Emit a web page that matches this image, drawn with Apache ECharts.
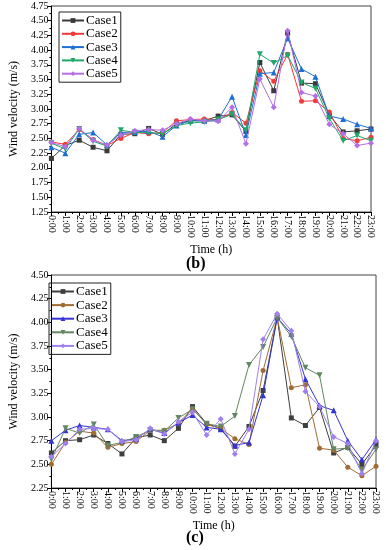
<!DOCTYPE html>
<html><head><meta charset="utf-8">
<script src="https://cdn.jsdelivr.net/npm/echarts@6/dist/echarts.min.js"></script>
<style>html,body{margin:0;padding:0;background:#fff}#c{width:386px;height:550px}</style>
</head><body><div id="c"></div>
<script>
const hours = ['0:00','1:00','2:00','3:00','4:00','5:00','6:00','7:00','8:00','9:00','10:00','11:00','12:00','13:00','14:00','15:00','16:00','17:00','18:00','19:00','20:00','21:00','22:00','23:00'];
const caseNames = ['Case1','Case2','Case3','Case4','Case5'];

// Panel (b)
const b_case1 = [2.16,2.38,2.47,2.35,2.29,2.57,2.58,2.67,2.57,2.75,2.80,2.80,2.88,2.90,2.62,3.79,3.31,4.29,3.44,3.43,2.90,2.61,2.63,2.66];
const b_case2 = [2.44,2.40,2.65,2.48,2.38,2.50,2.60,2.58,2.60,2.80,2.82,2.83,2.82,2.94,2.76,3.65,3.47,3.93,3.13,3.14,2.95,2.50,2.46,2.52];
const b_case3 = [2.35,2.25,2.57,2.60,2.39,2.60,2.61,2.62,2.53,2.72,2.80,2.80,2.82,3.21,2.56,3.60,3.62,4.20,3.68,3.55,2.88,2.83,2.74,2.67];
const b_case4 = [2.42,2.32,2.66,2.45,2.37,2.64,2.60,2.60,2.58,2.72,2.76,2.78,2.82,2.91,2.64,3.93,3.78,3.91,3.45,3.35,2.84,2.46,2.55,2.46];
const b_case5 = [2.43,2.36,2.67,2.47,2.39,2.56,2.63,2.65,2.64,2.75,2.83,2.80,2.79,3.03,2.41,3.51,3.03,4.33,3.28,3.22,2.74,2.58,2.38,2.42];

// Panel (c)
const c_case1 = [2.62,2.75,2.76,2.81,2.72,2.61,2.78,2.81,2.75,2.88,3.11,2.93,2.88,2.69,2.90,3.28,4.05,2.99,2.91,3.10,2.62,2.68,2.50,2.70];
const c_case2 = [2.50,2.73,2.85,2.83,2.68,2.72,2.74,2.86,2.86,2.93,3.09,2.92,2.88,2.77,2.71,3.49,4.05,3.31,3.34,2.67,2.65,2.47,2.38,2.48];
const c_case3 = [2.75,2.86,2.91,2.89,2.87,2.75,2.77,2.87,2.83,2.94,3.02,2.89,2.87,2.70,2.73,3.23,4.05,3.88,3.40,3.12,3.07,2.75,2.55,2.76];
const c_case4 = [2.55,2.88,2.83,2.92,2.70,2.73,2.79,2.86,2.85,2.99,3.08,2.93,2.90,3.01,3.55,3.74,4.05,3.85,3.52,3.44,2.66,2.67,2.44,2.66];
const c_case5 = [2.58,2.72,2.87,2.88,2.87,2.74,2.76,2.88,2.82,2.95,3.05,2.81,2.98,2.61,2.87,3.82,4.09,3.91,3.27,3.11,2.79,2.72,2.40,2.75];

const bColors = ['#3a3a3a','#f23a3a','#1f6ed4','#1fa868','#b46ee6'];
const cColors = ['#3f3f3f','#a06c34','#3434d6','#638663','#a080ee'];
const symbols = ['rect','circle','triangle','path://M0,0 L10,0 L5,9 Z','diamond'];
const symSizes = [5,5,6,6,6];

const FONT = 'Liberation Serif';
const bData = [b_case1,b_case2,b_case3,b_case4,b_case5];
const cData = [c_case1,c_case2,c_case3,c_case4,c_case5];

function mk(prefix, arr, colors, idx) {
  return arr.map((vals, i) => ({
    name: prefix + ':' + caseNames[i],
    type: 'line',
    xAxisIndex: idx, yAxisIndex: idx,
    data: vals.map((v, h) => [h, v]),
    symbol: symbols[i], symbolSize: symSizes[i],
    lineStyle: {width: 1, color: colors[i]},
    itemStyle: {color: colors[i]},
    z: 5 + i,
    animation: false
  }));
}

function xAx(idx, gap) {
  return {
    type: 'value', gridIndex: idx, min: 0, max: 23, interval: 1,
    name: 'Time (h)', nameLocation: 'middle', nameGap: gap,
    nameTextStyle: {fontFamily: FONT, fontSize: 12, color: '#000'},
    axisLine: {lineStyle: {color: '#000', width: 1}},
    axisTick: {inside: false, length: 4, lineStyle: {color: '#000'}},
    minorTick: {show: true, splitNumber: 2, length: 2, lineStyle: {color: '#000'}},
    splitLine: {show: false},
    axisLabel: {rotate: -90, fontFamily: FONT, fontSize: 10, color: '#000', margin: 3,
      formatter: v => hours[v]}
  };
}
function yAx(idx, min, max, gap) {
  return {
    type: 'value', gridIndex: idx, min: min, max: max, interval: 0.25,
    name: 'Wind velocity (m/s)', nameLocation: 'middle', nameGap: gap, nameRotate: 90,
    nameTextStyle: {fontFamily: FONT, fontSize: 12, color: '#000'},
    axisLine: {show: true, lineStyle: {color: '#000', width: 1}},
    axisTick: {show: true, inside: false, length: 4, lineStyle: {color: '#000'}},
    minorTick: {show: true, splitNumber: 2, length: 2, lineStyle: {color: '#000'}},
    splitLine: {show: false},
    axisLabel: {fontFamily: FONT, fontSize: 10, color: '#000', margin: 3,
      formatter: v => v.toFixed(2)}
  };
}
function leg(prefix, left, top, gap) {
  return {
    data: caseNames.map(n => prefix + ':' + n),
    formatter: n => n.split(':')[1],
    orient: 'vertical', left: left, top: top,
    itemWidth: 22, itemHeight: 6, itemGap: gap,
    padding: [2, 3, 2, 2],
    borderColor: '#222', borderWidth: 1,
    textStyle: {fontFamily: FONT, fontSize: 13, lineHeight: 13, color: '#000', padding: [0,0,0,-3]},
    selectedMode: false
  };
}

const chart = echarts.init(document.getElementById('c'), null, {renderer: 'canvas'});
chart.setOption({
  backgroundColor: '#fff',
  animation: false,
  textStyle: {fontFamily: FONT},
  title: [
    {text: '(b)', left: 186, top: 256, textStyle: {fontFamily: FONT, fontSize: 16, fontWeight: 'bold', color: '#000'}, padding: 0},
    {text: '(c)', left: 186, top: 530, textStyle: {fontFamily: FONT, fontSize: 16, fontWeight: 'bold', color: '#000'}, padding: 0}
  ],
  legend: [leg('b', 59, 12, 0.3), leg('c', 49, 283, 0.6)],
  grid: [
    {left: 43, right: 15, top: 6, height: 206, show: true, borderColor: '#444', borderWidth: 1, backgroundColor: 'transparent'},
    {left: 39, right: 10, top: 275, height: 213, show: true, borderColor: '#444', borderWidth: 1, backgroundColor: 'transparent'}
  ],
  xAxis: [xAx(0, 32), xAx(1, 32)],
  yAxis: [yAx(0, 1.25, 4.75, 31), yAx(1, 2.25, 4.5, 28)],
  series: [...mk('b', bData, bColors, 0), ...mk('c', cData, cColors, 1)]
});
</script></body></html>
